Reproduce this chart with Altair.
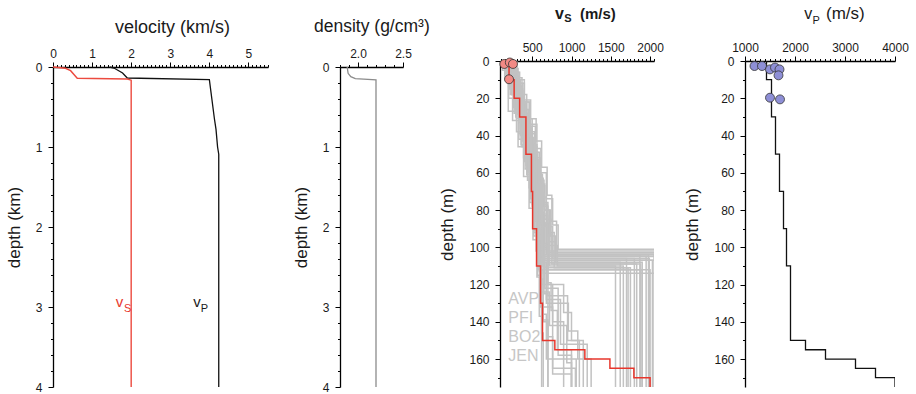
import altair as alt
import pandas as pd

FONT = "Liberation Sans"
INK = "#1a1a1a"

# ---------------- Panel 1: velocity (km/s) vs depth (km)
vp_km_vel = [1.45, 1.56, 1.78, 1.90, 4.00, 4.13, 4.17, 4.21, 4.24, 4.24]
vp_km_depth = [0.00, 0.0125, 0.075, 0.1375, 0.158, 0.65, 0.78, 1.00, 1.09, 4.00]
vs_km_vel = [0.00, 0.32, 0.45, 0.62, 1.90, 2.00, 2.00]
vs_km_depth = [0.00, 0.016, 0.046, 0.14, 0.15, 0.165, 4.00]

# ---------------- Panel 2: density (g/cm3) vs depth (km)
rho_gcc = [1.88, 1.89, 1.92, 1.97, 2.20, 2.20]
rho_depth = [0.00, 0.079, 0.12, 0.145, 0.162, 4.00]

# ---------------- Panel 3: vS (m/s) vs depth (m)
vs_best_top = [0, 10, 20, 30, 50, 70, 90, 110, 130, 150, 155, 160, 165, 170]
vs_best_vel = [205, 270, 340, 420, 490, 505, 555, 606, 631, 788, 1170, 1489, 1794, 2000]
vs_obs_vel = [145, 215, 255, 205]
vs_obs_depth = [1.6, 0.8, 1.6, 9.8]
ens_tops = [
    [0, 6, 14, 26, 40, 58, 78, 96, 104],
    [0, 5, 12, 24, 38, 55, 72, 90, 106],
    [0, 4, 10, 22, 36, 52, 70, 88, 103],
    [0, 8, 18, 30, 46, 64, 82, 102, 112],
    [0, 5, 15, 27, 42, 60, 80, 98, 108],
    [0, 7, 16, 28, 44, 62, 84, 100, 110],
    [0, 6, 13, 25, 37, 50, 68, 86, 105],
    [0, 4, 11, 21, 34, 48, 66, 90, 107],
    [0, 9, 19, 33, 47, 63, 79, 99, 103],
    [0, 6, 14, 26, 40, 56, 74, 92, 109],
    [0, 5, 12, 23, 35, 51, 69, 87, 104],
    [0, 7, 17, 29, 43, 59, 77, 95, 111],
    [0, 4, 9, 20, 32, 46, 60, 76, 92, 105],
    [0, 6, 12, 22, 35, 49, 64, 80, 97, 108],
    [0, 5, 11, 24, 33, 47, 62, 81, 101, 112],
    [0, 8, 15, 28, 39, 53, 67, 85, 103],
    [0, 3, 10, 19, 30, 44, 58, 73, 89, 102],
    [0, 7, 13, 23, 37, 52, 65, 83, 99, 110],
    [0, 5, 14, 26, 41, 55, 71, 88, 104],
    [0, 6, 18, 31, 45, 61, 78, 95, 106],
    [0, 10, 27, 38, 52, 68, 84, 100, 114],
    [0, 3, 9, 18, 31, 45, 61, 77, 94, 106],
    [0, 5, 12, 22, 34, 47, 60, 74, 88, 101],
    [0, 7, 15, 26, 38, 52, 66, 80, 94, 107],
    [0, 4, 10, 21, 31, 43, 57, 72, 86, 104],
    [0, 6, 16, 29, 43, 57, 71, 87, 102, 111],
    [0, 5, 13, 24, 36, 49, 63, 78, 93, 109],
    [0, 6, 14, 27, 40, 56, 74, 92, 120, 135, 150],
    [0, 5, 12, 24, 38, 52, 70, 88, 110, 130, 145, 160],
    [0, 8, 18, 28, 42, 58, 76, 94, 112, 140],
    [0, 4, 10, 20, 34, 50, 66, 84, 100, 122, 158],
    [0, 6, 15, 26, 45, 60, 80, 96, 118, 146],
    [0, 7, 14, 25, 39, 54, 72, 91, 115, 132, 165],
    [0, 5, 13, 22, 36, 50, 68, 86, 108, 126, 150],
    [0, 6, 16, 27, 41, 57, 75, 93, 113, 136, 160],
    [0, 5, 12, 25, 38, 52, 68, 85, 102, 124, 142, 162],
    [0, 7, 16, 30, 44, 58, 74, 90, 108, 128, 152],
    [0, 4, 13, 24, 36, 50, 67, 82, 98, 117, 139],
    [0, 6, 15, 27, 40, 54, 70, 87, 105, 125, 148, 168],
    [0, 8, 20, 32, 46, 62, 79, 96, 116, 137],
    [0, 8, 17, 30, 44, 59, 73, 89, 103, 120, 140, 165],
    [0, 5, 12, 23, 37, 51, 66, 82, 99, 119, 134, 155],
]
ens_vels = [
    [240, 280, 300, 400, 470, 520, 580, 640, 2100],
    [220, 250, 320, 380, 450, 500, 560, 600, 1800],
    [260, 300, 350, 420, 480, 540, 600, 680, 2100],
    [200, 240, 290, 370, 440, 510, 550, 620, 1900],
    [180, 210, 300, 390, 460, 520, 600, 700, 1620],
    [250, 290, 340, 410, 500, 560, 640, 720, 1560],
    [230, 270, 310, 360, 430, 490, 530, 580, 1950],
    [210, 260, 330, 400, 470, 520, 590, 660, 2030],
    [270, 300, 360, 440, 510, 570, 620, 700, 2100],
    [190, 230, 280, 350, 420, 480, 520, 560, 1830],
    [240, 280, 340, 410, 480, 540, 610, 680, 1870],
    [220, 260, 310, 380, 450, 500, 570, 650, 1750],
    [160, 230, 290, 380, 480, 560, 620, 700, 780, 2100],
    [300, 340, 400, 460, 540, 590, 650, 720, 800, 1900],
    [120, 180, 260, 330, 420, 500, 560, 640, 700, 2000],
    [280, 320, 380, 450, 530, 580, 660, 740, 2100],
    [200, 250, 310, 390, 470, 540, 610, 680, 760, 2100],
    [230, 290, 360, 430, 500, 560, 620, 700, 820, 1660],
    [260, 300, 350, 430, 520, 570, 630, 720, 2050],
    [190, 240, 300, 360, 430, 500, 560, 610, 1990],
    [150, 195, 300, 390, 460, 530, 580, 640, 2100],
    [280, 310, 370, 430, 500, 560, 630, 690, 760, 1700],
    [250, 300, 380, 470, 560, 610, 680, 760, 830, 2100],
    [220, 290, 360, 450, 530, 600, 660, 730, 800, 2100],
    [270, 320, 400, 480, 550, 620, 690, 750, 810, 1980],
    [300, 330, 380, 460, 540, 600, 650, 710, 780, 1720],
    [210, 270, 340, 420, 500, 570, 640, 700, 750, 1880],
    [200, 240, 300, 370, 440, 500, 560, 620, 900, 1000, 1150],
    [230, 270, 320, 390, 460, 520, 570, 610, 680, 960, 1080, 1250],
    [180, 220, 270, 330, 410, 470, 520, 580, 640, 700],
    [250, 290, 330, 400, 470, 530, 590, 640, 660, 830, 1000],
    [210, 250, 300, 360, 450, 510, 560, 600, 620, 640],
    [170, 200, 260, 330, 400, 480, 530, 570, 600, 760, 900],
    [260, 290, 350, 420, 490, 550, 600, 650, 700, 950, 1100],
    [220, 260, 310, 380, 450, 500, 550, 590, 620, 680, 1060],
    [210, 250, 300, 370, 430, 490, 540, 580, 610, 720, 940, 1000],
    [240, 280, 330, 400, 470, 530, 580, 630, 680, 860, 1200],
    [180, 220, 280, 350, 420, 470, 520, 560, 600, 640, 700],
    [270, 310, 360, 420, 480, 530, 590, 630, 650, 700, 760, 1000],
    [160, 200, 250, 320, 390, 460, 510, 560, 590, 620],
    [260, 310, 370, 440, 520, 580, 630, 690, 700, 760, 900, 1050],
    [190, 260, 330, 410, 490, 560, 610, 660, 690, 740, 820, 1000],
]
site_labels = ["AVP", "PFI", "BO2", "JEN"]

# ---------------- Panel 4: vP (m/s) vs depth (m)
vp_best_top = [0, 10, 30, 50, 70, 90, 110, 150, 155, 160, 165, 170]
vp_best_vel = [1430, 1530, 1610, 1690, 1770, 1830, 1910, 2210, 2610, 3210, 3610, 4000]
vp_obs_vel = [1190, 1340, 1500, 1600, 1690, 1670, 1500, 1700]
vp_obs_depth = [2.7, 2.7, 4.5, 3.5, 4.5, 7.7, 19.7, 20.6]

DMAX = 175


def steps(tops, vels, bottom=DMAX):
    rows = []
    for i, (t, v) in enumerate(zip(tops, vels)):
        b = tops[i + 1] if i + 1 < len(tops) else bottom
        rows.append({"vel": v, "depth": t})
        rows.append({"vel": v, "depth": b})
    for k, r in enumerate(rows):
        r["idx"] = k
    return rows


def curve(vels, depths):
    return pd.DataFrame({"vel": vels, "depth": depths, "idx": list(range(len(vels)))})


def axis(orient, values, major, fmt, pad, title=None, offset=0, **kw):
    return alt.Axis(
        orient=orient, values=values, title=title, grid=False,
        labelExpr=f"({major}) ? format(datum.value, '{fmt}') : ''",
        tickSize={"condition": {"test": major, "value": 5}, "value": 2.5},
        labelFlush=False, labelOverlap=False, labelPadding=pad, offset=offset, **kw)


def txt(s, x, y, size, color=INK, weight="normal"):
    return alt.Chart(pd.DataFrame({"t": [s]})).mark_text(
        text=s, align="left", baseline="alphabetic", font=FONT, fontSize=size,
        fontWeight=weight, color=color).encode(x=alt.value(x), y=alt.value(y))


H = 326
INT = "abs(datum.value - round(datum.value)) < 0.0001"

# ---------- Panel 1
x1 = alt.X("vel:Q", scale=alt.Scale(domain=[0, 5.5], nice=False, zero=False),
           axis=axis("top", [round(i * 0.1, 1) for i in range(56)], INT, "d", 2, offset=-6))
y1 = alt.Y("depth:Q", scale=alt.Scale(domain=[0, 4], range=[6, H], nice=False, zero=False),
           axis=axis("left", [round(i * 0.2, 1) for i in range(21)], INT, "d", 6,
                     title="depth (km)", titlePadding=12))
p1 = alt.layer(
    alt.Chart(curve(vp_km_vel, vp_km_depth)).mark_line(color="#111", strokeWidth=1.3)
    .encode(x=x1, y=y1, order="idx:Q"),
    alt.Chart(curve(vs_km_vel, vs_km_depth)).mark_line(color="#ec4a3f", strokeWidth=1.4)
    .encode(x=x1, y=y1, order="idx:Q"),
    txt("velocity (km/s)", 62, -28, 18),
    txt("v", 62.7, 245.7, 15, "#e8362c"),
    txt("S", 71, 250.7, 11, "#e8362c"),
    txt("v", 140.3, 245.7, 15),
    txt("P", 147.7, 250.7, 11),
).properties(width=215, height=H)

# ---------- Panel 2
x2 = alt.X("vel:Q", scale=alt.Scale(domain=[1.8, 2.5], nice=False, zero=False),
           axis=axis("top", [round(1.8 + i * 0.1, 1) for i in range(8)],
                     "abs(datum.value*2 - round(datum.value*2)) < 0.0001 && datum.value > 1.9",
                     ".1f", 2, offset=-6))
y2 = alt.Y("depth:Q", scale=alt.Scale(domain=[0, 4], range=[6, H], nice=False, zero=False),
           axis=axis("left", [round(i * 0.2, 1) for i in range(21)], INT, "d", 6,
                     title="depth (km)", titlePadding=12))
p2 = alt.layer(
    alt.Chart(curve(rho_gcc, rho_depth)).mark_line(color="#8c8c8c", strokeWidth=1.3)
    .encode(x=x2, y=y2, order="idx:Q"),
    txt("density (g/cm³)", -26, -29, 17.5),
).properties(width=63, height=H)

# ---------- Panel 3
ens_rows = []
for pid, (tops, vels) in enumerate(zip(ens_tops, ens_vels)):
    for r in steps(tops, vels):
        r["pid"] = pid
        ens_rows.append(r)
x3 = alt.X("vel:Q", scale=alt.Scale(domain=[90, 2050], nice=False, zero=False),
           axis=axis("top", list(range(100, 2051, 50)), "datum.value % 500 === 0", "d", 2))
y3 = alt.Y("depth:Q", scale=alt.Scale(domain=[0, DMAX], reverse=True, nice=False, zero=False),
           axis=axis("left", list(range(0, 171, 10)), "datum.value % 20 === 0", "d", 6,
                     title="depth (m)", titlePadding=12))
site_layers = [txt(s, 8.3, 243.3 + 19 * i, 16, "#c6c6c6") for i, s in enumerate(site_labels)]
p3 = alt.layer(
    alt.Chart(pd.DataFrame(ens_rows)).mark_line(color="#c2c2c2", strokeWidth=1.5, clip=True)
    .encode(x=x3, y=y3, detail="pid:N", order="idx:Q"),
    *site_layers,
    alt.Chart(pd.DataFrame(steps(vs_best_top, vs_best_vel))).mark_line(
        color="#e8362c", strokeWidth=1.5, clip=True).encode(x=x3, y=y3, order="idx:Q"),
    alt.Chart(pd.DataFrame({"vel": vs_obs_vel, "depth": vs_obs_depth})).mark_circle(
        size=80, color="#f28a85", opacity=1, stroke="#333", strokeWidth=0.8).encode(x=x3, y=y3),
    txt("v", 55, -42, 16, weight="bold"),
    txt("S", 64.3, -39, 11, weight="bold"),
    txt("(m/s)", 80, -42, 15, weight="bold"),
).properties(width=154, height=H)

# ---------- Panel 4
x4 = alt.X("vel:Q", scale=alt.Scale(domain=[1000, 4000], nice=False, zero=False),
           axis=axis("top", list(range(1000, 4001, 100)), "datum.value % 1000 === 0", "d", 2))
y4 = alt.Y("depth:Q", scale=alt.Scale(domain=[0, DMAX], reverse=True, nice=False, zero=False),
           axis=axis("left", list(range(0, 171, 10)), "datum.value % 20 === 0", "d", 6,
                     title="depth (m)", titlePadding=12))
p4 = alt.layer(
    alt.Chart(pd.DataFrame(steps(vp_best_top, vp_best_vel))).mark_line(
        color="#111", strokeWidth=1.3, clip=True).encode(x=x4, y=y4, order="idx:Q"),
    alt.Chart(pd.DataFrame({"vel": vp_obs_vel, "depth": vp_obs_depth})).mark_circle(
        size=80, color="#8e8fd6", opacity=1, stroke="#333", strokeWidth=0.8).encode(x=x4, y=y4),
    txt("v", 59.3, -42, 16),
    txt("P", 67.6, -37.4, 11),
    txt("(m/s)", 81, -42, 17),
).properties(width=150, height=H)

chart = alt.hconcat(
    alt.hconcat(p1, p2, spacing=23),
    alt.hconcat(p3, p4, spacing=19),
    spacing=8,
).properties(
    padding={"left": 5, "top": 5, "right": 5, "bottom": 5}
).configure_view(stroke=None).configure_axis(
    labelFont=FONT, labelFontSize=12, labelColor=INK,
    titleFont=FONT, titleFontSize=17, titleFontWeight="normal", titleColor=INK,
    domainColor="#000", domainWidth=1.3, tickColor="#000", tickWidth=1,
)

chart.save("out.html", embed_options={"renderer": "svg", "actions": False})
